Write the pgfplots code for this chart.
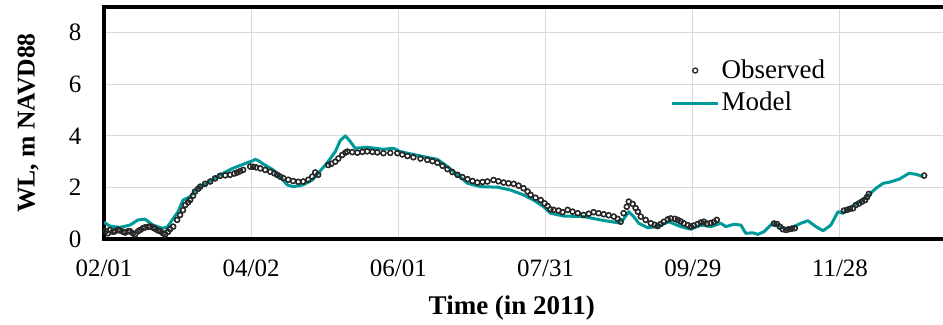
\documentclass[border=0pt]{standalone}
\usepackage{fontspec}
\setmainfont{Liberation Serif}
\usepackage{pgfplots}
\usepackage{pgfplotstable}
\pgfplotsset{compat=1.18}
\definecolor{modelteal}{RGB}{0,153,153}
\definecolor{obsgray}{RGB}{40,40,40}
\definecolor{gridgray}{RGB}{217,217,217}

\pgfplotstableread{
day wl
0.0 0.65
2.4 0.50
6.5 0.45
10.6 0.54
13.9 0.74
16.7 0.77
20.0 0.54
23.7 0.42
25.7 0.45
27.8 0.74
30.2 1.06
32.2 1.51
35.1 1.64
38.0 1.97
42.0 2.16
47.3 2.49
52.7 2.75
58.4 2.96
60.8 3.04
61.6 3.09
62.9 3.04
64.9 2.91
69.0 2.68
71.8 2.42
74.7 2.10
77.1 2.03
81.2 2.10
84.9 2.29
87.3 2.55
91.0 2.96
94.3 3.39
96.3 3.82
98.4 4.00
100.4 3.78
102.4 3.52
107.3 3.56
113.9 3.48
118.0 3.52
120.8 3.39
123.7 3.33
129.0 3.22
135.9 3.09
140.0 2.81
144.1 2.49
148.2 2.16
153.5 2.03
160.4 2.01
165.7 1.90
171.0 1.71
175.1 1.51
179.2 1.25
182.0 1.00
187.3 0.89
195.5 0.87
202.4 0.74
209.4 0.63
211.8 0.77
213.9 1.06
215.9 0.87
218.0 0.61
221.6 0.44
225.7 0.48
230.2 0.67
235.1 0.48
239.2 0.38
243.3 0.54
247.3 0.48
251.4 0.61
253.5 0.48
256.7 0.57
259.6 0.54
261.6 0.22
264.5 0.24
266.5 0.18
269.0 0.28
271.8 0.54
273.1 0.61
275.9 0.48
278.0 0.38
281.2 0.48
284.1 0.61
286.9 0.71
290.2 0.48
293.1 0.32
296.3 0.54
299.2 1.06
301.2 1.00
303.7 1.19
307.8 1.45
311.8 1.71
314.7 1.97
317.6 2.16
320.0 2.20
324.1 2.32
328.2 2.55
331.0 2.51
333.9 2.42
}\modeltable

\pgfplotstableread{
day wl
0.8 0.31
1.6 0.22
2.4 0.35
3.7 0.28
4.5 0.30
5.7 0.36
6.5 0.33
7.8 0.28
8.6 0.25
9.8 0.30
10.6 0.30
11.8 0.22
12.7 0.18
13.9 0.30
14.7 0.35
15.9 0.42
16.7 0.45
18.0 0.47
18.8 0.48
20.0 0.44
20.8 0.40
22.0 0.33
22.9 0.30
24.1 0.22
24.9 0.18
26.1 0.28
26.9 0.38
28.2 0.48
29.8 0.74
31.0 0.93
32.2 1.12
33.1 1.32
34.3 1.42
35.1 1.51
36.3 1.68
37.1 1.84
38.4 1.95
39.2 2.03
41.2 2.14
43.3 2.23
45.3 2.35
47.3 2.45
49.4 2.47
51.4 2.49
53.1 2.54
54.3 2.58
55.5 2.63
56.7 2.68
59.6 2.81
60.8 2.80
62.0 2.78
63.7 2.74
65.7 2.68
67.8 2.61
69.4 2.55
70.6 2.49
71.8 2.42
73.1 2.36
75.1 2.30
77.1 2.25
79.2 2.22
81.2 2.23
83.3 2.30
84.9 2.42
86.1 2.58
87.3 2.49
91.4 2.87
92.7 2.92
94.3 3.00
95.5 3.12
97.1 3.26
98.4 3.35
99.2 3.39
101.2 3.37
103.3 3.35
105.3 3.38
107.3 3.40
109.4 3.38
111.4 3.36
113.9 3.33
116.7 3.34
119.6 3.33
121.6 3.28
123.7 3.22
126.1 3.17
129.0 3.12
131.8 3.07
133.9 3.02
135.9 2.96
138.0 2.84
140.0 2.71
142.0 2.60
144.1 2.49
146.1 2.40
148.2 2.32
150.2 2.25
152.2 2.19
154.3 2.21
156.3 2.23
158.8 2.29
160.8 2.24
162.9 2.19
164.9 2.16
167.0 2.14
169.0 2.07
171.0 1.97
172.7 1.84
173.9 1.71
175.9 1.60
178.0 1.51
179.6 1.38
180.8 1.28
182.0 1.15
183.3 1.13
185.3 1.10
186.9 1.04
189.0 1.13
191.0 1.06
193.1 1.00
195.5 0.93
197.6 0.98
199.6 1.04
201.6 1.00
203.7 0.96
205.7 0.92
207.8 0.87
209.4 0.78
210.6 0.67
211.8 1.00
213.1 1.25
213.9 1.45
215.5 1.36
216.7 1.20
217.6 1.06
218.8 0.87
220.8 0.74
222.9 0.61
224.5 0.55
225.7 0.50
226.9 0.58
228.2 0.67
229.8 0.76
231.0 0.80
232.7 0.78
233.9 0.74
235.1 0.68
236.3 0.61
238.0 0.54
239.2 0.48
240.4 0.52
242.0 0.58
243.3 0.64
244.5 0.67
245.7 0.60
247.3 0.62
248.6 0.66
249.8 0.74
273.1 0.60
274.3 0.58
275.5 0.48
276.7 0.38
278.0 0.35
279.2 0.38
280.4 0.40
281.6 0.42
301.6 1.10
302.9 1.13
304.1 1.17
305.3 1.19
306.5 1.32
307.8 1.38
309.0 1.45
310.2 1.51
311.0 1.62
311.8 1.75
334.3 2.46
}\obstable

\pgfplotsset{
  obsleg/.style={legend image code/.code={\draw[##1] plot coordinates {(11.5pt,0.5pt)};}},
  modleg/.style={legend image code/.code={\draw[##1] (0pt,0pt) -- (23pt,0pt);}},
}

\begin{document}
\begin{tikzpicture}
\useasboundingbox (0,0) rectangle (471.5pt,162.5pt);
\begin{axis}[
  at={(52pt,43pt)}, anchor=south west,
  width=419.5pt, height=116pt, scale only axis,
  xmin=0, xmax=342, ymin=0, ymax=9,
  xtick={0,60,120,180,240,300},
  xticklabels={02/01,04/02,06/01,07/31,09/29,11/28},
  ytick={0,2,4,6,8},
  axis x line*=box, axis y line*=left,
  axis line style={line width=1.75pt, black, line cap=rect},
  major tick length=0pt,
  grid=major,
  major grid style={gridgray, line width=0.5pt},
  /pgf/number format/assume math mode=true,
  tick label style={font=\fontsize{12.5}{14}\selectfont},
  xticklabel style={yshift=-7pt},
  yticklabel style={xshift=-7.8pt},
  xlabel={\textbf{Time (in 2011)}},
  ylabel={\textbf{WL, m NAVD88}},
  xlabel style={font=\fontsize{13.5}{16}\selectfont, at={(axis description cs:0.486,-0.297)}, anchor=center},
  ylabel style={font=\fontsize{12.8}{15}\selectfont, at={(axis description cs:-0.0906,0.5)}, anchor=center},
  legend style={at={(axis description cs:0.675,0.784)}, anchor=north west,
    draw=none, fill=none, inner sep=0pt, column sep=0pt, row sep=2pt,
    font=\fontsize{13.5}{16}\selectfont,
    nodes={inner sep=1pt, text height=9.5pt, text depth=2.5pt}},
  legend cell align=left,
]
\addplot[only marks, mark=o, mark size=1.25pt, obsgray, line width=0.65pt, obsleg]
  table[x=day, y=wl] {\obstable};
\addlegendentry{Observed}
\addplot[modelteal, line width=1.5pt, line join=round, no marks, modleg]
  table[x=day, y=wl] {\modeltable};
\addlegendentry{Model}
\addplot[only marks, mark=o, mark size=1.25pt, obsgray, line width=0.65pt, forget plot]
  table[x=day, y=wl] {\obstable};
\end{axis}
\end{tikzpicture}
\end{document}
